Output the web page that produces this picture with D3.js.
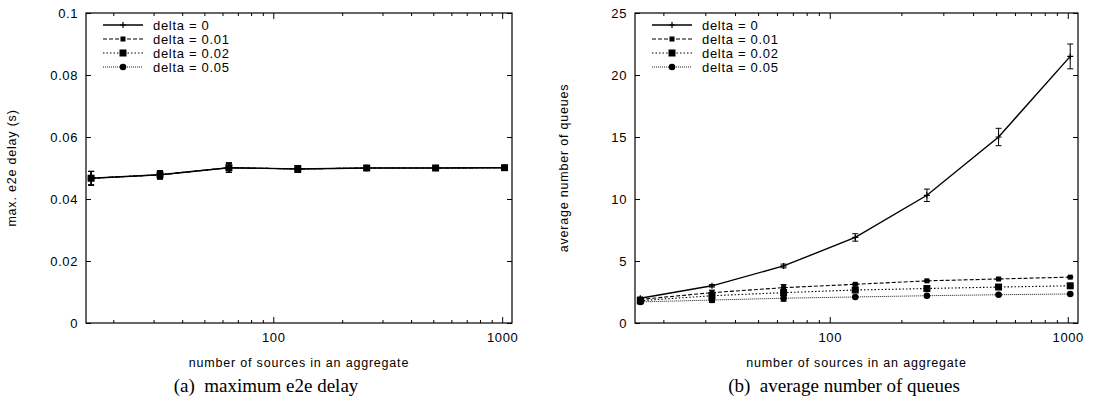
<!DOCTYPE html>
<html>
<head>
<meta charset="utf-8">
<script src="https://cdn.jsdelivr.net/npm/d3@7"></script>
<style>
  body { margin: 0; background: #fff; }
  svg { display: block; }
  .tick text { font-family: "Liberation Sans", Arial, sans-serif; font-size: 13px; letter-spacing: 0.6px; fill: #000; }
  .lbl { font-family: "Liberation Sans", Arial, sans-serif; font-size: 12.5px; letter-spacing: 0.8px; fill: #000; }
  .domain { display: none; }
</style>
</head>
<body>
<svg width="1093" height="415"></svg>
<script>
// shared x values: number of sources per aggregate
const sources = [16, 32, 64, 128, 256, 512, 1024];
const deltaNames = ["delta = 0", "delta = 0.01", "delta = 0.02", "delta = 0.05"];
const xMajor = [100, 1000];
const xMinor = [20, 30, 40, 50, 60, 70, 80, 90, 200, 300, 400, 500, 600, 700, 800, 900];

// (a) maximum e2e delay, seconds
const delayD0   = [0.0467, 0.0478, 0.0501, 0.0497, 0.0500, 0.0500, 0.0501];
const delayD001 = [0.0467, 0.0478, 0.0501, 0.0497, 0.0500, 0.0500, 0.0501];
const delayD002 = [0.0467, 0.0478, 0.0501, 0.0497, 0.0500, 0.0500, 0.0501];
const delayD005 = [0.0467, 0.0478, 0.0501, 0.0497, 0.0500, 0.0500, 0.0501];
const delayErr  = [0.0022, 0.0013, 0.0015, 0.0011, 0.0008, 0.0004, 0.0004];
const delayTicks = [0, 0.02, 0.04, 0.06, 0.08, 0.1];

// (b) average number of queues
const queuesD0   = [2.0, 3.0, 4.6, 6.9, 10.3, 15.0, 21.5];
const queuesD001 = [1.9, 2.45, 2.85, 3.12, 3.4, 3.55, 3.7];
const queuesD002 = [1.8, 2.2, 2.45, 2.66, 2.78, 2.9, 3.0];
const queuesD005 = [1.7, 1.85, 2.0, 2.1, 2.2, 2.28, 2.34];
const queuesErr0 = [0.1, 0.1, 0.15, 0.3, 0.5, 0.7, 1.0];
const queuesErrS = [0.15, 0.2, 0.25, 0.05, 0.05, 0.05, 0.05];
const queuesTicks = [0, 5, 10, 15, 20, 25];

const svg = d3.select("svg");
const plotTop = 13, plotBottom = 323;

// line and marker style per delta
const styles = [
  { dash: null,    width: 1.4, marker: "plus" },
  { dash: "4,2",   width: 1.1, marker: "smallsq" },
  { dash: "1.5,2", width: 1.1, marker: "square" },
  { dash: "1,1",   width: 0.9, marker: "circle" }
];

function drawMarker(g, type, cx, cy) {
  if (type === "plus") {
    g.append("path").attr("d", `M${cx - 3},${cy}H${cx + 3}M${cx},${cy - 3}V${cy + 3}`)
      .attr("stroke", "#000").attr("stroke-width", 1.2);
  } else if (type === "smallsq") {
    g.append("rect").attr("x", cx - 2.5).attr("y", cy - 2.5).attr("width", 5).attr("height", 5).attr("fill", "#000");
  } else if (type === "square") {
    g.append("rect").attr("x", cx - 3.5).attr("y", cy - 3.5).attr("width", 7).attr("height", 7).attr("fill", "#000");
  } else {
    g.append("circle").attr("cx", cx).attr("cy", cy).attr("r", 3.3).attr("fill", "#000");
  }
}

function drawPanel(p) {
  const g = svg.append("g");
  const x = d3.scaleLog().domain([15.2, 1104]).range([p.left, p.right]);
  const y = d3.scaleLinear().domain(p.yDomain).range([plotBottom, plotTop]);

  // frame
  g.append("rect").attr("x", p.left).attr("y", plotTop)
    .attr("width", p.right - p.left).attr("height", plotBottom - plotTop)
    .attr("fill", "none").attr("stroke", "#000").attr("stroke-width", 1.2);

  // x axis: majors labelled, minors mirrored on top
  g.append("g").attr("transform", `translate(0,${plotBottom})`)
    .call(d3.axisBottom(x).tickValues(xMajor).tickFormat(d3.format("d")).tickSize(-6).tickPadding(10));
  g.append("g").attr("transform", `translate(0,${plotBottom})`)
    .call(d3.axisBottom(x).tickValues(xMinor).tickFormat("").tickSize(-3));
  g.append("g").attr("transform", `translate(0,${plotTop})`)
    .call(d3.axisTop(x).tickValues(xMajor).tickFormat("").tickSize(-6));
  g.append("g").attr("transform", `translate(0,${plotTop})`)
    .call(d3.axisTop(x).tickValues(xMinor).tickFormat("").tickSize(-3));

  // y axis on both sides
  g.append("g").attr("transform", `translate(${p.left},0)`)
    .call(d3.axisLeft(y).tickValues(p.yTicks).tickFormat(p.yFormat).tickSize(-5).tickPadding(8));
  g.append("g").attr("transform", `translate(${p.right},0)`)
    .call(d3.axisRight(y).tickValues(p.yTicks).tickFormat("").tickSize(-5));
  g.selectAll(".tick line").attr("stroke", "#000").attr("stroke-width", 1);

  // axis titles
  g.append("text").attr("class", "lbl")
    .attr("x", (p.left + p.right) / 2).attr("y", 367)
    .attr("text-anchor", "middle")
    .text("number of sources in an aggregate");
  g.append("text").attr("class", "lbl")
    .attr("transform", `translate(${p.yLabelX},${(plotTop + plotBottom) / 2}) rotate(-90)`)
    .attr("text-anchor", "middle")
    .text(p.yLabel);

  // caption under the panel
  g.append("text")
    .attr("x", p.captionX).attr("y", 392)
    .attr("text-anchor", "middle")
    .attr("font-family", "Liberation Serif, Times New Roman, serif").attr("font-size", "19px")
    .attr("xml:space", "preserve")
    .text(p.caption);

  // series lines, error bars and markers
  const line = d3.line().x((d, i) => x(sources[i])).y(d => y(d));
  p.series.forEach((vals, k) => {
    const st = styles[k];
    g.append("path").datum(vals)
      .attr("d", line)
      .attr("fill", "none").attr("stroke", "#000")
      .attr("stroke-width", st.width)
      .attr("stroke-dasharray", st.dash);
    const err = p.errors[k];
    vals.forEach((v, i) => {
      const cx = x(sources[i]);
      if (err && err[i] > 0) {
        const y1 = y(v + err[i]), y2 = y(v - err[i]);
        g.append("path")
          .attr("d", `M${cx},${y1}V${y2}M${cx - 3},${y1}H${cx + 3}M${cx - 3},${y2}H${cx + 3}`)
          .attr("stroke", "#000").attr("stroke-width", 1).attr("fill", "none");
      }
      drawMarker(g, st.marker, cx, y(v));
    });
  });

  // legend
  const lx0 = p.left + 17, lx1 = p.left + 57;
  deltaNames.forEach((name, k) => {
    const st = styles[k];
    const ly = 25 + k * 14;
    g.append("line").attr("x1", lx0).attr("x2", lx1).attr("y1", ly).attr("y2", ly)
      .attr("stroke", "#000").attr("stroke-width", st.width).attr("stroke-dasharray", st.dash);
    drawMarker(g, st.marker, (lx0 + lx1) / 2, ly);
    g.append("text").attr("class", "lbl").attr("x", lx1 + 10).attr("y", ly + 4.5)
      .style("font-size", "13px").style("letter-spacing", "0.7px")
      .text(name);
  });
}

drawPanel({
  left: 86, right: 512,
  yDomain: [0, 0.1], yTicks: delayTicks,
  yFormat: d => d === 0 ? "0" : d3.format("")(+d.toFixed(2)),
  yLabel: "max. e2e delay (s)", yLabelX: 16,
  caption: "(a)  maximum e2e delay", captionX: 266,
  series: [delayD0, delayD001, delayD002, delayD005],
  errors: [delayErr, delayErr, delayErr, delayErr]
});

drawPanel({
  left: 635, right: 1078,
  yDomain: [0, 25], yTicks: queuesTicks,
  yFormat: d3.format("d"),
  yLabel: "average number of queues", yLabelX: 568,
  caption: "(b)  average number of queues", captionX: 844,
  series: [queuesD0, queuesD001, queuesD002, queuesD005],
  errors: [queuesErr0, queuesErrS, queuesErrS, queuesErrS]
});
</script>
</body>
</html>
